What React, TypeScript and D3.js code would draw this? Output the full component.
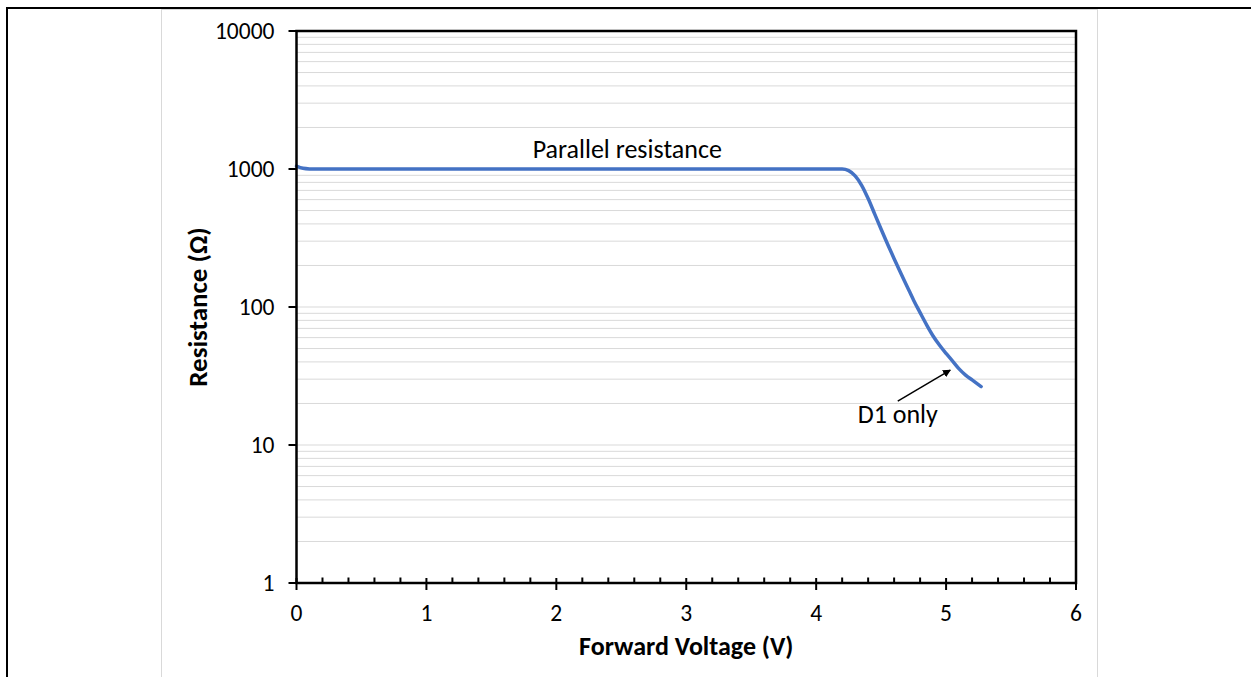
import React from "react";
import * as d3 from "d3";

const voltage = [0, 0.05, 0.1, 0.15, 0.5, 1, 2, 3, 4, 4.1, 4.2, 4.25, 4.3, 4.35, 4.4, 4.45, 4.5, 4.55, 4.6, 4.65, 4.7, 4.75, 4.8, 4.85, 4.9, 4.95, 5.0, 5.05, 5.1, 5.15, 5.2, 5.27];
const resistance = [1050, 1012, 1002, 1000, 1000, 1000, 1000, 1000, 1000, 1000, 1000, 973, 891, 762, 611, 473, 366, 285, 224, 177, 141, 112, 91, 74.3, 61.7, 52.8, 46.1, 40.6, 35.6, 32.1, 29.6, 26.5];
const xTicks = [0, 1, 2, 3, 4, 5, 6];
const yTicks = [1, 10, 100, 1000, 10000];
const xTitle = "Forward Voltage (V)";
const yTitle = "Resistance (Ω)";
const annotations = [
  { text: "Parallel resistance", v: 2.546, r: 1195 },
  { text: "D1 only", v: 4.628, r: 14.4 },
];
const arrow = { from: [4.628, 20.8], to: [5.032, 34.9] };

const W = 1251;
const H = 677;
const FONT = "Carlito, Lato, 'Open Sans', sans-serif";

export default function App() {
  const left = 296.5, right = 1076, top = 31, bottom = 583;
  const x = d3.scaleLinear().domain([0, 6]).range([left, right]);
  const y = d3.scaleLog().domain([1, 10000]).range([bottom, top]);

  const data = voltage.map((v, i) => [v, resistance[i]] as [number, number]);
  const line = d3
    .line<[number, number]>()
    .x((d) => x(d[0]))
    .y((d) => y(d[1]))
    .curve(d3.curveMonotoneX);

  const minorGrid: number[] = [];
  for (let e = 0; e < 4; e++) {
    for (let k = 2; k <= 9; k++) minorGrid.push(k * Math.pow(10, e));
  }
  const minorX = d3.range(0, 30).map((i) => i * 0.2).filter((v) => Math.abs(v - Math.round(v)) > 1e-6);

  const ax = x(arrow.to[0]);
  const ay = y(arrow.to[1]);
  const fx = x(arrow.from[0]);
  const fy = y(arrow.from[1]);

  return (
    <svg width={W} height={H} style={{ position: "absolute", left: 0, top: 0, display: "block", background: "#fff" }} fontFamily={FONT}>
      <defs>
        <marker id="ah" viewBox="0 0 10 10" refX="9" refY="5" markerWidth="8" markerHeight="8" orient="auto" markerUnits="userSpaceOnUse">
          <path d="M0,0 L10,5 L0,10 z" fill="#000" />
        </marker>
      </defs>
      <rect x={7} y={8} width={W + 20} height={H + 20} fill="none" stroke="#000" strokeWidth={2} />
      <rect x={161.5} y={9.5} width={936} height={H + 20} fill="none" stroke="#d9d9d9" strokeWidth={1} />

      {minorGrid.map((g) => (
        <line key={"g" + g} x1={left} x2={right} y1={y(g)} y2={y(g)} stroke="#d9d9d9" strokeWidth={1} />
      ))}
      {yTicks.slice(1, -1).map((g) => (
        <line key={"G" + g} x1={left} x2={right} y1={y(g)} y2={y(g)} stroke="#d9d9d9" strokeWidth={1} />
      ))}

      <path d={line(data) || ""} fill="none" stroke="#4472C4" strokeWidth={3.5} strokeLinejoin="round" strokeLinecap="round" />

      <rect x={left} y={top} width={right - left} height={bottom - top} fill="none" stroke="#000" strokeWidth={2.5} />

      {minorX.map((v) => (
        <line key={"mx" + v} x1={x(v)} x2={x(v)} y1={bottom} y2={bottom - 5.5} stroke="#000" strokeWidth={2} />
      ))}
      {xTicks.map((v) => (
        <g key={"xt" + v}>
          <line x1={x(v)} x2={x(v)} y1={bottom - 5} y2={bottom + 7} stroke="#000" strokeWidth={2} />
          <text x={x(v)} y={bottom + 38} textAnchor="middle" fontSize={23.5} fill="#000">
            {v}
          </text>
        </g>
      ))}
      {yTicks.map((v) => (
        <g key={"yt" + v}>
          <line x1={left - 8} x2={left} y1={y(v)} y2={y(v)} stroke="#000" strokeWidth={2} />
          <text x={left - 22} y={y(v) + 8} textAnchor="end" fontSize={23.5} fill="#000">
            {v}
          </text>
        </g>
      ))}

      <text x={(left + right) / 2} y={655} textAnchor="middle" fontSize={26} fontWeight="bold" fill="#000">
        {xTitle}
      </text>
      <text transform={`translate(207,${(top + bottom) / 2}) rotate(-90)`} textAnchor="middle" fontSize={27} fontWeight="bold" fill="#000">
        {yTitle}
      </text>

      {annotations.map((a) => (
        <text key={a.text} x={x(a.v)} y={y(a.r)} textAnchor="middle" fontSize={26} fill="#000">
          {a.text}
        </text>
      ))}
      <line x1={fx} y1={fy} x2={ax} y2={ay} stroke="#000" strokeWidth={1.5} markerEnd="url(#ah)" />
    </svg>
  );
}
